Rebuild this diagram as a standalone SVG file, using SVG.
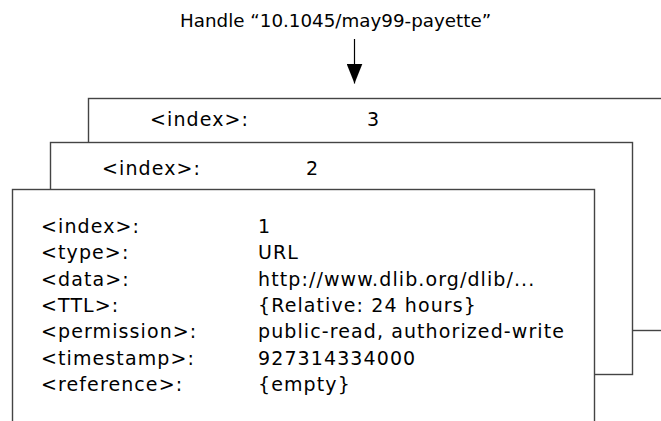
<svg xmlns="http://www.w3.org/2000/svg" width="661" height="421" viewBox="0 0 661 421">
<style>
  .box { fill: #ffffff; stroke: #444444; stroke-width: 1.4; }
  .txt { font-family: "DejaVu Sans", Verdana, sans-serif; font-size: 19px; letter-spacing: 1.1px; fill: #000000; }
  .title { font-family: "DejaVu Sans", Verdana, sans-serif; font-size: 18.3px; fill: #000000; }
  .conn { stroke: #000000; stroke-width: 1.2; fill: none; }
</style>
<defs>
  <marker id="arrow" viewBox="0 0 20 16" refX="20" refY="8" markerWidth="20" markerHeight="16" markerUnits="userSpaceOnUse" orient="auto">
    <path d="M0,0 L20,8 L0,16 Z" fill="#000000"/>
  </marker>
</defs>
<rect width="661" height="421" fill="#ffffff"/>
<g id="title">
  <text class="title" x="180" y="27">Handle “10.1045/may99-payette”</text>
</g>
<g id="connectors">
  <line class="conn" x1="354.5" y1="39" x2="354.5" y2="83.5" marker-end="url(#arrow)"/>
</g>
<g id="record3">
  <rect class="box" x="88.5" y="98.5" width="620" height="232"/>
  <text class="txt" x="150" y="126">&lt;index&gt;:</text>
  <text class="txt" x="367" y="126">3</text>
</g>
<g id="record2">
  <rect class="box" x="50.5" y="142.5" width="582" height="232"/>
  <text class="txt" x="102" y="175">&lt;index&gt;:</text>
  <text class="txt" x="306" y="175">2</text>
</g>
<g id="record1">
  <rect class="box" x="12.5" y="189.5" width="582" height="260"/>
  <text class="txt" x="41" y="233">&lt;index&gt;:</text>
  <text class="txt" x="258" y="233">1</text>
  <text class="txt" x="41" y="259.3">&lt;type&gt;:</text>
  <text class="txt" x="258" y="259.3">URL</text>
  <text class="txt" x="41" y="285.6">&lt;data&gt;:</text>
  <text class="txt" x="258" y="285.6">http://www.dlib.org/dlib/...</text>
  <text class="txt" x="41" y="311.9">&lt;TTL&gt;:</text>
  <text class="txt" x="258" y="311.9">{Relative: 24 hours}</text>
  <text class="txt" x="41" y="338.2">&lt;permission&gt;:</text>
  <text class="txt" x="258" y="338.2">public-read, authorized-write</text>
  <text class="txt" x="41" y="364.5">&lt;timestamp&gt;:</text>
  <text class="txt" x="258" y="364.5">927314334000</text>
  <text class="txt" x="41" y="390.8">&lt;reference&gt;:</text>
  <text class="txt" x="258" y="390.8">{empty}</text>
</g>
</svg>
